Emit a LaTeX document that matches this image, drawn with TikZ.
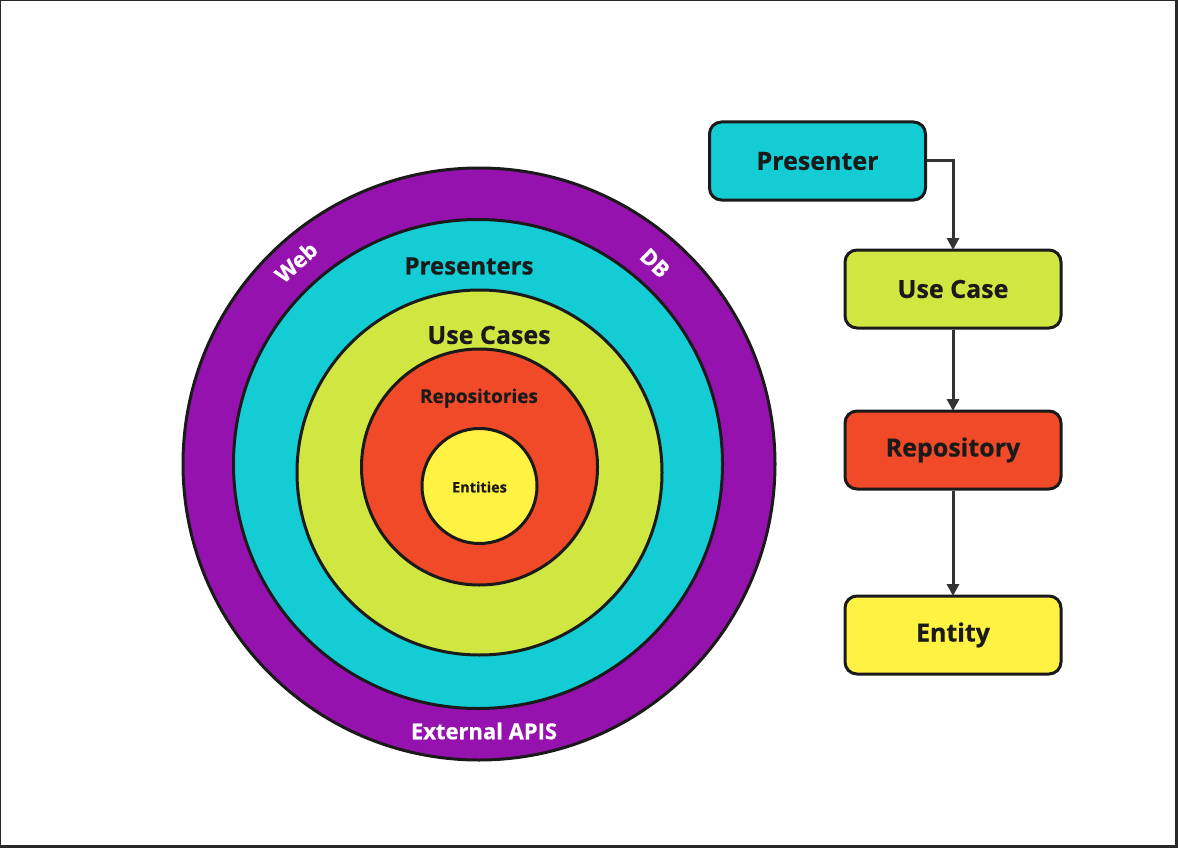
\documentclass[tikz,border=0pt]{standalone}
\usepackage{fontspec}
\setmainfont{Open Sans}
\newfontfamily\heavyfont[BoldFeatures={FakeBold=0.5}]{Open Sans}
\usetikzlibrary{arrows.meta}
\definecolor{ringpurple}{RGB}{150,18,174}
\definecolor{ringcyan}{RGB}{20,204,212}
\definecolor{ringlime}{RGB}{207,231,64}
\definecolor{ringred}{RGB}{240,74,40}
\definecolor{ringyellow}{RGB}{255,242,67}
\definecolor{inkdark}{RGB}{26,26,26}
\definecolor{arrowgray}{RGB}{51,51,51}
\definecolor{framegray}{RGB}{40,40,40}
\tikzset{
  ring/.style={circle, draw=inkdark, line width=3pt, inner sep=0pt},
  ringlabel/.style={font=\heavyfont\bfseries\fontsize{#1}{#1}\selectfont, text=inkdark, inner sep=0pt},
  whitelabel/.style={font=\heavyfont\bfseries\fontsize{22}{22}\selectfont, text=white, inner sep=0pt},
  layerbox/.style={draw=inkdark, line width=3pt, rounded corners=12pt, minimum width=216pt, minimum height=78pt,
     font=\heavyfont\bfseries\fontsize{25}{25}\selectfont, text=inkdark},
  flow/.style={draw=arrowgray, line width=3pt, -{Triangle[length=12pt,width=12pt]}}
}
\begin{document}
\begin{tikzpicture}[x=1pt,y=-1pt]
\fill[framegray] (0,0) rectangle (1178,848);
\fill[white] (1,1.5) rectangle (1175,845);
\useasboundingbox (0,0) rectangle (1178,848);
% rings
\node[ring, fill=ringpurple, minimum size=592pt] (outer) at (479,464) {};
\node[ring, fill=ringcyan, minimum size=489pt] (pres) at (478,464) {};
\node[ring, fill=ringlime, minimum size=365pt] (uses) at (479.5,472.5) {};
\node[ring, fill=ringred, minimum size=236pt] (repo) at (479.5,467) {};
\node[ring, fill=ringyellow, minimum size=115pt] (ent) at (479.5,486) {};
% ring labels
\node[whitelabel, rotate=42] (web) at (296,262) {Web};
\node[whitelabel, rotate=-44] (db) at (655,263) {DB};
\node[whitelabel] (ext) at (484,731) {External APIS};
\node[ringlabel=24] (presl) at (469,266) {Presenters};
\node[ringlabel=25] (usesl) at (489,335) {Use Cases};
\node[ringlabel=19] (repol) at (479,398) {Repositories};
\node[ringlabel=14.5] (entl) at (479.5,487) {Entities};
% boxes
\node[layerbox, fill=ringcyan] (bpres) at (817.5,161) {Presenter};
\node[layerbox, fill=ringlime] (buse) at (953,289) {Use Case};
\node[layerbox, fill=ringred] (brepo) at (953,450) {Repository};
\node[layerbox, fill=ringyellow] (bent) at (953,635) {Entity};
% arrows
\draw[flow] (bpres.east) -| ([yshift=-1.5pt]buse.north);
\draw[flow] (buse.south) -- ([yshift=-1.5pt]brepo.north);
\draw[flow] (brepo.south) -- ([yshift=-1.5pt]bent.north);
\end{tikzpicture}
\end{document}
